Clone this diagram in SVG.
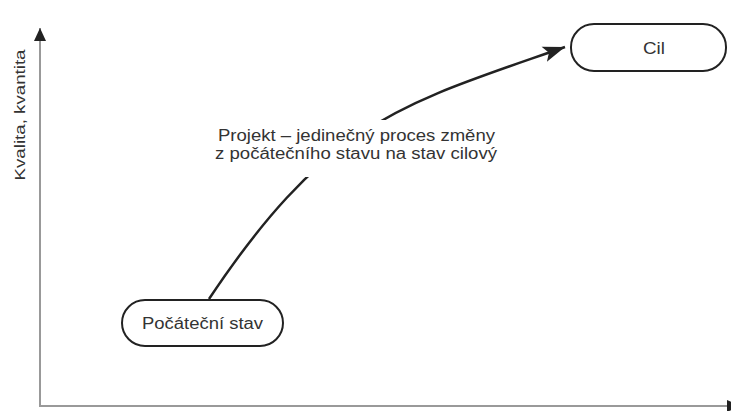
<svg xmlns="http://www.w3.org/2000/svg" width="731" height="411" viewBox="0 0 731 411">
<style>
.node{fill:#fff;stroke:#222;stroke-width:2}
.t{font-family:"Liberation Sans",Arial,sans-serif;fill:#333}
.axis{stroke:#999;stroke-width:2;fill:none}
</style>
<defs>
<marker id="ah" markerUnits="userSpaceOnUse" markerWidth="24" markerHeight="18" refX="22" refY="8" orient="auto" viewBox="0 0 24 16">
<path d="M0,0 L22,8 L0,16 L5,8 Z" fill="#222"/>
</marker>
<marker id="axh" markerUnits="userSpaceOnUse" markerWidth="14" markerHeight="14" refX="13" refY="6" orient="auto" viewBox="0 0 14 12">
<path d="M0,0 L13,6 L0,12 Z" fill="#222"/>
</marker>
</defs>
<g id="axes">
<path class="axis" d="M40,407 L40,28" marker-end="url(#axh)"/>
<path class="axis" d="M40,406 L740,406" marker-end="url(#axh)"/>
<text class="t" font-size="15.5" transform="translate(25,115) rotate(-90)" text-anchor="middle" textLength="131" lengthAdjust="spacingAndGlyphs">Kvalita, kvantita</text>
</g>
<g id="connectors">
<path d="M209,299 C329,119 403,104 565,47" fill="none" stroke="#222" stroke-width="2.5" marker-end="url(#ah)"/>
</g>
<g id="label">
<rect x="212" y="120" width="290" height="57" fill="#fff"/>
<text class="t" font-size="16" x="218" y="141" textLength="277" lengthAdjust="spacingAndGlyphs">Projekt – jedinečný proces změny</text>
<text class="t" font-size="16" x="215" y="159" textLength="282" lengthAdjust="spacingAndGlyphs">z počátečního stavu na stav cilový</text>
</g>
<g id="cil">
<rect class="node" x="571" y="24" width="155" height="47" rx="23" ry="23"/>
<text class="t" font-size="16" x="643" y="54" textLength="22" lengthAdjust="spacingAndGlyphs">Cil</text>
</g>
<g id="pocatecni">
<rect class="node" x="122" y="300" width="161" height="46" rx="23" ry="23"/>
<text class="t" font-size="16" x="142" y="329" textLength="121" lengthAdjust="spacingAndGlyphs">Počáteční stav</text>
</g>
</svg>
